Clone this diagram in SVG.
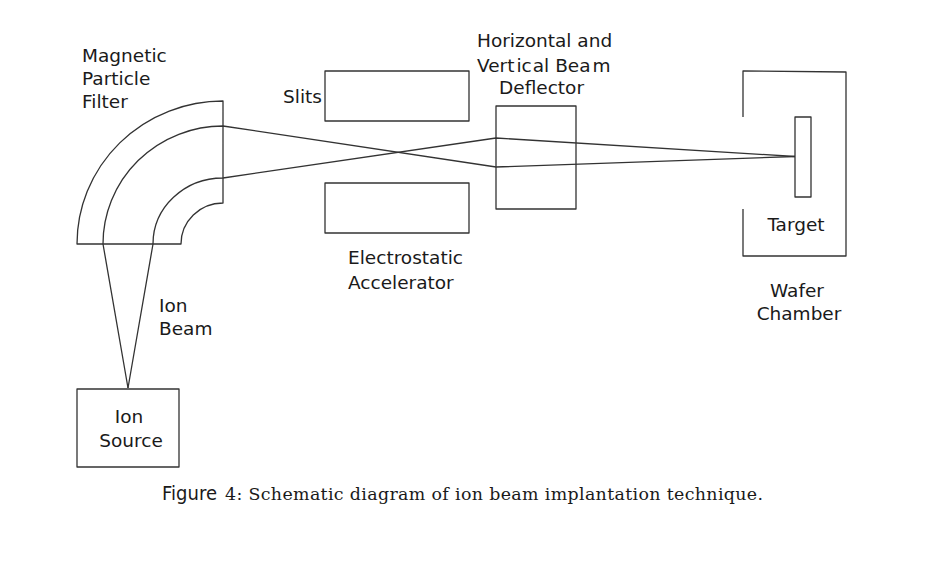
<svg xmlns="http://www.w3.org/2000/svg" width="933" height="567" viewBox="0 0 933 567">
<style>
.s{fill:none;stroke:#333;stroke-width:1.3;stroke-linejoin:round}
.t{font-family:"DejaVu Sans","Noto Sans",sans-serif;font-size:18.5px;fill:#1a1a1a}
.m{text-anchor:middle}
.cap{font-family:"DejaVu Serif","Liberation Serif",serif;font-size:17.4px;fill:#1a1a1a}
</style>
<rect width="933" height="567" fill="#fff"/>
<g id="connectors">
<path class="s" d="M128,388 L103,244 A120,118 0 0 1 223,126 L496,167 L795,156.5"/>
<path class="s" d="M128,388 L153,244 A70,66 0 0 1 223,178 L496,138 L795,156.5"/>
</g>
<g id="magnetic-filter">
<path class="s" d="M77,244 A146,143 0 0 1 223,101 L223,203 A42,41 0 0 0 181,244 Z"/>
<text class="t" x="82" y="61.7">Magnetic</text>
<text class="t" x="82" y="85">Particle</text>
<text class="t" x="82" y="108.3">Filter</text>
</g>
<g id="slits">
<rect class="s" x="325" y="71" width="144" height="50"/>
<text class="t" x="283" y="102.7">Slits</text>
</g>
<g id="accelerator">
<rect class="s" x="325" y="183" width="144" height="50"/>
<text class="t" x="348" y="264">Electrostatic</text>
<text class="t" x="348" y="289">Accelerator</text>
</g>
<g id="deflector">
<rect class="s" x="496" y="106" width="80" height="103"/>
<text class="t" x="477" y="46.7">Horizontal and</text>
<text class="t" x="477" y="71.7">Vert<tspan dx="2">ic</tspan><tspan dx="1">al Bea</tspan><tspan dx="2">m</tspan></text>
<text class="t" x="499" y="94">Deflector</text>
</g>
<g id="wafer-chamber">
<path class="s" d="M743,117 L743,71 L846,72 L846,256 L743,256 L743,209"/>
<text class="t m" x="797" y="297">Wafer</text>
<text class="t m" x="799" y="320">Chamber</text>
</g>
<g id="target">
<rect class="s" x="795" y="117" width="16" height="80"/>
<text class="t m" x="796" y="230.7">Target</text>
</g>
<g id="ion-beam-label">
<text class="t" x="159" y="311.7">Ion</text>
<text class="t" x="159" y="335">Beam</text>
</g>
<g id="ion-source">
<rect class="s" x="77" y="389" width="102" height="78"/>
<text class="t m" x="129" y="423">Ion</text>
<text class="t m" x="131" y="446.7">Source</text>
</g>
<g id="caption">
<text x="162" y="500" font-family="DejaVu Sans, Noto Sans, sans-serif" font-size="20" fill="#1a1a1a" textLength="55" lengthAdjust="spacingAndGlyphs">Figure</text>
<text class="cap" x="225" y="500" textLength="538" lengthAdjust="spacing">4: Schematic diagram of ion beam implantation technique.</text>
</g>
</svg>
